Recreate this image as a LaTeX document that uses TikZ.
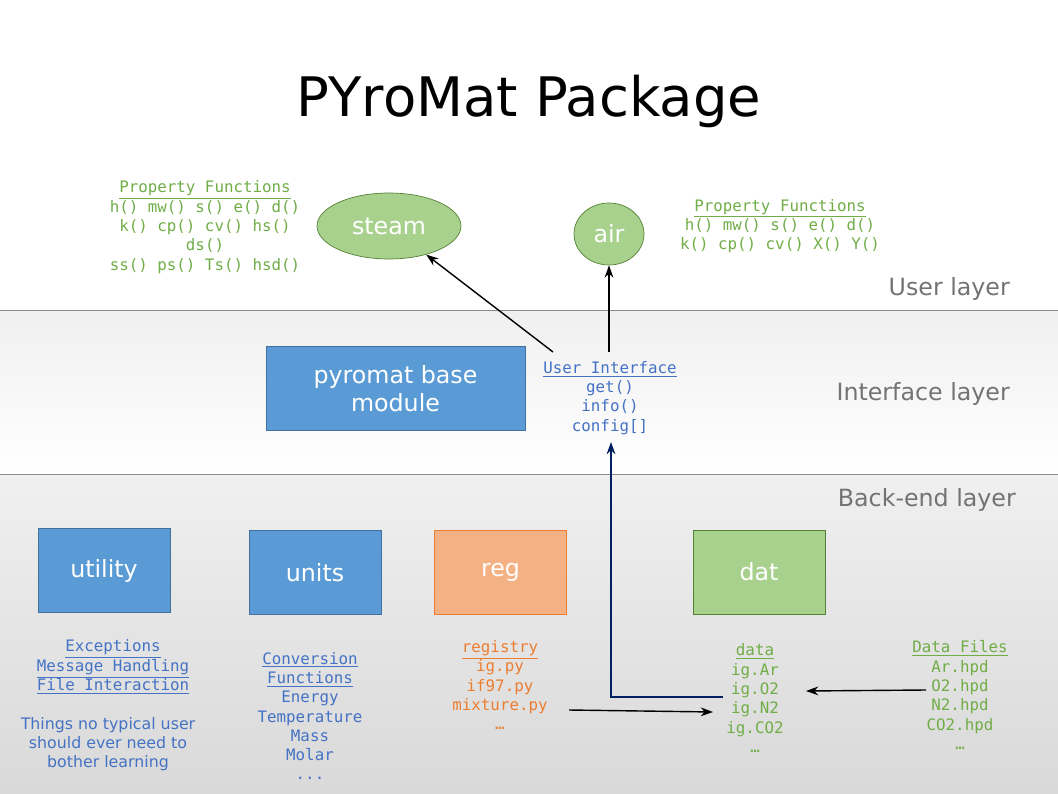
\documentclass[tikz,border=0pt]{standalone}
\usepackage{fontspec}
\setmainfont{DejaVu Sans}
\setmonofont{DejaVu Sans Mono}
\usetikzlibrary{positioning,arrows.meta,shapes.geometric}
\definecolor{boxblue}{HTML}{5B9BD5}
\definecolor{edgeblue}{HTML}{41719C}
\definecolor{boxorange}{HTML}{F4B183}
\definecolor{edgeorange}{HTML}{ED7D31}
\definecolor{boxgreen}{HTML}{A9D18E}
\definecolor{edgegreen}{HTML}{548235}
\definecolor{txtgreen}{HTML}{70AD47}
\definecolor{txtblue}{HTML}{4472C4}
\definecolor{navy}{HTML}{002060}
\begin{document}
\begin{tikzpicture}[x=0.02cm,y=-0.02cm,
    modbox/.style={draw,minimum width=132*0.02cm,minimum height=84*0.02cm,text=white,font=\fontsize{13.5}{16}\selectfont},
    blob/.style={ellipse,draw=edgegreen,fill=boxgreen,text=white,font=\fontsize{13.5}{16}\selectfont},
    code/.style={align=center,font=\ttfamily\fontsize{9}{11}\selectfont},
    layer/.style={anchor=east,text=black!55,font=\fontsize{13.5}{16}\selectfont},
    arr/.style={-{Stealth[length=7pt,width=5pt]},thick}]
\useasboundingbox (0,0) rectangle (1058,794);
\shade[top color=black!6,bottom color=white] (0,310) rectangle (1058,474);
\shade[top color=black!6,bottom color=black!15] (0,474) rectangle (1058,794);
\draw[black!45] (0,310) -- (1058,310);
\draw[black!45] (0,474) -- (1058,474);
\node (title) at (529,101) {\fontsize{31}{36}\selectfont PYroMat Package};
% layers
\node[layer] (ulayer) at (1016,289) {User layer};
\node[layer] (ilayer) at (1016,394) {Interface layer};
\node[layer] (blayer) at (1022,500) {Back-end layer};
% user layer
\node[blob,minimum width=144*0.02cm,minimum height=66*0.02cm] (steam) at (389,226) {steam};
\node[blob,minimum width=70*0.02cm,minimum height=62*0.02cm,inner sep=0pt] (air) at (609,234) {air};
\node[code,text=txtgreen] (pfleft) at (205,227) {\underline{Property Functions}\\h() mw() s() e() d()\\k() cp() cv() hs()\\ds()\\ss() ps() Ts() hsd()};
\node[code,text=txtgreen] (pfright) at (780,226) {\underline{Property Functions}\\h() mw() s() e() d()\\k() cp() cv() X() Y()};
% interface layer
\node[modbox,fill=boxblue,draw=edgeblue,minimum width=259*0.02cm,align=center] (base) at (395.5,388.5) {pyromat base\\module};
\node[code,text=txtblue] (ui) at (610,398) {\underline{User Interface}\\get()\\info()\\config[]};
% back-end layer
\node[modbox,fill=boxblue,draw=edgeblue] (utility) at (104,570.5) {utility};
\node[modbox,fill=boxblue,draw=edgeblue] (units) at (315,572.5) {units};
\node[modbox,fill=boxorange,draw=edgeorange] (reg) at (500.5,572) {reg};
\node[modbox,fill=boxgreen,draw=edgegreen] (dat) at (759,572) {dat};
\node[code,text=txtblue] (utillist) at (113,667) {\underline{Exceptions}\\\underline{Message Handling}\\\underline{File Interaction}};
\node[align=center,text=txtblue,font=\fontsize{9}{11}\selectfont] (utilnote) at (108,744) {Things no typical user\\should ever need to\\bother learning};
\node[code,text=txtblue] (unitlist) at (310,716) {\underline{Conversion}\\\underline{Functions}\\Energy\\Temperature\\Mass\\Molar\\...};
\node[code,text=edgeorange] (reglist) at (500,685) {\underline{registry}\\ig.py\\if97.py\\mixture.py\\…};
\node[code,text=txtgreen] (datlist) at (755,698) {\underline{data}\\ig.Ar\\ig.O2\\ig.N2\\ig.CO2\\…};
\node[code,text=txtgreen] (files) at (960,695) {\underline{Data Files}\\Ar.hpd\\O2.hpd\\N2.hpd\\CO2.hpd\\…};
% connectors
\coordinate (uileft) at (553,352);
\coordinate (uimid) at (609,352);
\coordinate (corner) at (611,697);
\coordinate (datin) at (723,697);
\coordinate (regout) at (569,710);
\coordinate (datn2) at (713,712);
\coordinate (filesout) at (926,690);
\coordinate (dato2) at (806,691);
\coordinate (uibot) at (611,442);
\draw[arr] (uileft) -- (steam);
\draw[arr] (uimid) -- (air);
\draw[arr,navy] (datin) -- (corner) -- (uibot);
\draw[arr] (regout) -- (datn2);
\draw[arr] (filesout) -- (dato2);
\end{tikzpicture}
\end{document}
